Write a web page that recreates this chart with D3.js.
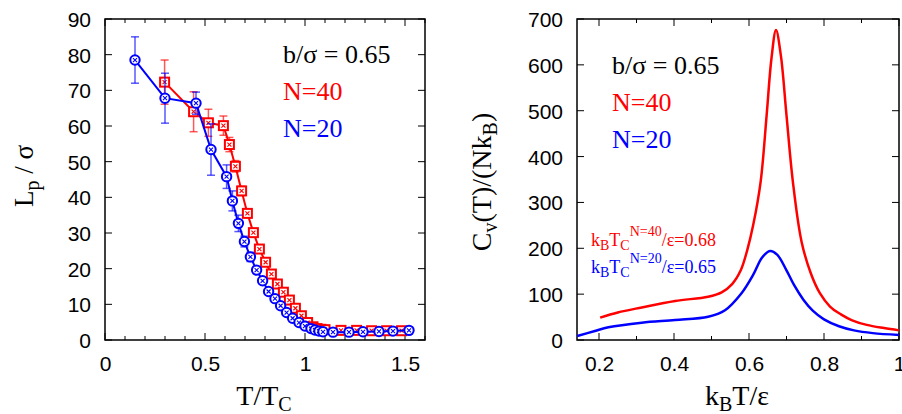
<!doctype html>
<html>
<head>
<meta charset="UTF-8">
<title>Persistence length and specific heat</title>
<script src="https://cdn.jsdelivr.net/npm/d3@7"></script>
<style>
body { margin: 0; background: #fff; }
.tick text { font-family: "Liberation Sans", Arial, sans-serif; font-size: 21px; }
</style>
</head>
<body>
<script>
// ---- left panel: Lp/sigma vs T/Tc ----
var tBlue = [0.15, 0.30, 0.455, 0.53, 0.608, 0.637, 0.667, 0.697, 0.727, 0.758, 0.788, 0.818, 0.85, 0.878, 0.908, 0.938, 0.97, 1.0, 1.03, 1.05, 1.07, 1.09, 1.14, 1.22, 1.29, 1.37, 1.44, 1.52];
var lpBlue = [78.5, 67.8, 66.4, 53.4, 45.8, 39.0, 32.7, 27.6, 23.3, 19.6, 16.6, 13.6, 11.6, 9.6, 7.7, 6.1, 4.9, 3.9, 3.2, 2.8, 2.5, 2.3, 2.2, 2.2, 2.3, 2.4, 2.5, 2.7];
var errBlue = [6.5, 7.0, 3.1, 7.2, 3.3, 2.8, 2.3, 1.5, 1.3, 1.0, 0.8, 0.6, 0.5, 0.4, 0.4, 0.3, 0.3, 0.3, 0.2, 0.2, 0.2, 0.2, 0.2, 0.2, 0.2, 0.2, 0.2, 0.2];

var tRed = [0.298, 0.443, 0.517, 0.592, 0.622, 0.652, 0.683, 0.712, 0.742, 0.772, 0.803, 0.832, 0.862, 0.892, 0.922, 0.952, 0.982, 1.013, 1.04, 1.06, 1.08, 1.10, 1.18, 1.258, 1.333, 1.408, 1.483];
var lpRed = [72.3, 64.0, 60.9, 60.1, 54.8, 48.7, 41.8, 35.5, 30.1, 25.5, 21.8, 18.5, 15.7, 13.4, 11.2, 8.9, 6.8, 4.9, 3.7, 3.2, 3.0, 2.9, 2.7, 2.7, 2.6, 2.6, 2.6];
var errRed = [6.2, 5.6, 3.8, 2.7, 2.0, 1.6, 1.3, 1.0, 0.8, 0.7, 0.6, 0.5, 0.4, 0.4, 0.3, 0.3, 0.3, 0.3, 0.2, 0.2, 0.2, 0.2, 0.2, 0.2, 0.2, 0.2, 0.2];

var leftXTicks = [0, 0.5, 1, 1.5];
var leftYTicks = [0, 10, 20, 30, 40, 50, 60, 70, 80, 90];

// ---- right panel: Cv vs kBT/eps ----
var kRed = [0.203, 0.25, 0.314, 0.403, 0.491, 0.527, 0.555, 0.578, 0.595, 0.611, 0.631, 0.647, 0.66, 0.672, 0.685, 0.70, 0.717, 0.74, 0.765, 0.789, 0.816, 0.845, 0.875, 0.914, 0.96, 1.0];
var cvRed = [48.7, 60, 71, 85, 94.5, 104, 122, 152, 195, 250, 345, 490, 615, 676, 620, 490, 345, 215, 145, 102, 73, 56, 43, 33, 26, 21];

var kBlue = [0.142, 0.189, 0.225, 0.314, 0.403, 0.491, 0.536, 0.58, 0.611, 0.635, 0.656, 0.675, 0.70, 0.72, 0.745, 0.77, 0.8, 0.84, 0.88, 0.93, 1.0];
var cvBlue = [8.7, 19.6, 27.6, 37.7, 43.6, 50.8, 65, 102, 142, 180, 194, 186, 152, 120, 88, 64, 45, 30, 21, 15, 11];

var rightXTicks = [0.2, 0.4, 0.6, 0.8, 1];
var rightYTicks = [0, 100, 200, 300, 400, 500, 600, 700];

var w = 902, h = 414;
var red = "#ff0000", blue = "#0000ff";
var serif = "'Liberation Serif', 'Times New Roman', serif";

var svg = d3.select("body").append("svg")
  .attr("width", w)
  .attr("height", h);

// frame + ticks in gnuplot style (inward, mirrored)
function frame(x, y, xMajor, xMinorStep, yMajor, xFmt) {
  var g = svg.append("g");
  var x0 = x.range()[0], x1 = x.range()[1], y0 = y.range()[0], y1 = y.range()[1];

  var xa = g.append("g").attr("transform", "translate(0," + y0 + ")")
    .call(d3.axisBottom(x).tickValues(xMajor).tickSize(0).tickPadding(16).tickFormat(xFmt));
  xa.select(".domain").remove();
  var ya = g.append("g").attr("transform", "translate(" + x0 + ",0)")
    .call(d3.axisLeft(y).tickValues(yMajor).tickSize(0).tickPadding(14));
  ya.select(".domain").remove();
  ya.selectAll("text").attr("dy", "0.36em");

  var minorX = d3.range(Math.ceil(x.domain()[0] / xMinorStep - 1e-6), Math.floor(x.domain()[1] / xMinorStep + 1e-6) + 1)
    .map(function(i) { return +(i * xMinorStep).toFixed(4); });
  minorX.forEach(function(v) {
    var isMajor = xMajor.some(function(m) { return Math.abs(m - v) < 1e-6; });
    var len = isMajor ? 7 : 4;
    g.append("line").attr("x1", x(v)).attr("x2", x(v)).attr("y1", y0).attr("y2", y0 - len).attr("stroke", "#000");
    g.append("line").attr("x1", x(v)).attr("x2", x(v)).attr("y1", y1).attr("y2", y1 + len).attr("stroke", "#000");
  });
  yMajor.forEach(function(v) {
    g.append("line").attr("x1", x0).attr("x2", x0 + 7).attr("y1", y(v)).attr("y2", y(v)).attr("stroke", "#000");
    g.append("line").attr("x1", x1).attr("x2", x1 - 7).attr("y1", y(v)).attr("y2", y(v)).attr("stroke", "#000");
  });

  g.append("rect")
    .attr("x", x0).attr("y", y1)
    .attr("width", x1 - x0).attr("height", y0 - y1)
    .attr("fill", "none").attr("stroke", "#000").attr("stroke-width", 1.5);
}

// ======== left panel ========
var xL = d3.scaleLinear().domain([0, 1.6]).range([105, 425]);
var yL = d3.scaleLinear().domain([0, 90]).range([340, 19]);

frame(xL, yL, leftXTicks, 0.1, leftYTicks, d3.format("~g"));

function series(t, v, e, color, shape) {
  var g = svg.append("g");
  var pts = t.map(function(d, i) { return {t: d, v: v[i], e: e[i]}; });

  // error bars
  pts.forEach(function(p) {
    var px = xL(p.t);
    g.append("line").attr("x1", px).attr("x2", px)
      .attr("y1", yL(p.v - p.e)).attr("y2", yL(p.v + p.e))
      .attr("stroke", color).attr("stroke-width", 1.5).attr("opacity", 0.65);
    [p.v - p.e, p.v + p.e].forEach(function(val) {
      g.append("line").attr("x1", px - 4).attr("x2", px + 4)
        .attr("y1", yL(val)).attr("y2", yL(val))
        .attr("stroke", color).attr("stroke-width", 1.5).attr("opacity", 0.65);
    });
  });

  g.append("path").datum(pts)
    .attr("fill", "none").attr("stroke", color).attr("stroke-width", 2)
    .attr("d", d3.line().x(function(d) { return xL(d.t); }).y(function(d) { return yL(d.v); }));

  pts.forEach(function(p) {
    var px = xL(p.t), py = yL(p.v);
    if (shape === "square") {
      g.append("rect").attr("x", px - 4.5).attr("y", py - 4.5).attr("width", 9).attr("height", 9)
        .attr("fill", "#fff").attr("stroke", color).attr("stroke-width", 2);
    } else {
      g.append("circle").attr("cx", px).attr("cy", py).attr("r", 4.7)
        .attr("fill", "#fff").attr("stroke", color).attr("stroke-width", 2);
    }
    g.append("path")
      .attr("d", "M" + (px - 2) + "," + (py - 2) + "L" + (px + 2) + "," + (py + 2) +
                 "M" + (px - 2) + "," + (py + 2) + "L" + (px + 2) + "," + (py - 2))
      .attr("stroke", color).attr("stroke-width", 1.1);
  });
}

series(tRed, lpRed, errRed, red, "square");
series(tBlue, lpBlue, errBlue, blue, "circle");

function legend(x0, yb, fs) {
  svg.append("text").attr("font-family", serif).attr("x", x0).attr("y", yb)
    .attr("font-size", fs).attr("fill", "#000").text("b/\u03c3 = 0.65");
  svg.append("text").attr("font-family", serif).attr("x", x0).attr("y", yb + 37)
    .attr("font-size", fs).attr("fill", red).text("N=40");
  svg.append("text").attr("font-family", serif).attr("x", x0).attr("y", yb + 74)
    .attr("font-size", fs).attr("fill", blue).text("N=20");
}
legend(283, 63, 26);

// axis labels left
var yl = svg.append("text").attr("font-family", serif)
  .attr("transform", "translate(33,176) rotate(-90)")
  .attr("text-anchor", "middle").attr("font-size", 27);
yl.append("tspan").text("L");
yl.append("tspan").attr("font-size", 20).attr("dy", 6).text("p");
yl.append("tspan").attr("dy", -6).text(" / \u03c3");

var xl = svg.append("text").attr("font-family", serif)
  .attr("x", 264).attr("y", 405)
  .attr("text-anchor", "middle").attr("font-size", 28);
xl.append("tspan").text("T/T");
xl.append("tspan").attr("font-size", 20).attr("dy", 6).text("C");

// ======== right panel ========
var xR = d3.scaleLinear().domain([0.1413, 1.0]).range([577, 899]);
var yR = d3.scaleLinear().domain([0, 700]).range([340, 19]);

frame(xR, yR, rightXTicks, 0.1, rightYTicks, d3.format("~g"));

var curve = d3.line().curve(d3.curveCatmullRom.alpha(0.5))
  .x(function(d) { return xR(d[0]); }).y(function(d) { return yR(d[1]); });

svg.append("path").datum(d3.zip(kRed, cvRed))
  .attr("fill", "none").attr("stroke", red).attr("stroke-width", 2.5).attr("d", curve);
svg.append("path").datum(d3.zip(kBlue, cvBlue))
  .attr("fill", "none").attr("stroke", blue).attr("stroke-width", 2.5).attr("d", curve);

legend(612, 74, 26);

function tcLabel(yb, color, n, val) {
  var t = svg.append("text").attr("font-family", serif)
    .attr("x", 591).attr("y", yb).attr("font-size", 18).attr("fill", color);
  t.append("tspan").text("k");
  t.append("tspan").attr("font-size", 14).attr("dy", 4).text("B");
  t.append("tspan").attr("dy", -4).text("T");
  t.append("tspan").attr("font-size", 14).attr("dy", 4).text("C");
  t.append("tspan").attr("font-size", 14).attr("dy", -14).text("N=" + n);
  t.append("tspan").attr("dy", 10).text("/\u03b5=" + val);
}
tcLabel(246, red, 40, "0.68");
tcLabel(273, blue, 20, "0.65");

var yr = svg.append("text").attr("font-family", serif)
  .attr("transform", "translate(491,182) rotate(-90)")
  .attr("text-anchor", "middle").attr("font-size", 28);
yr.append("tspan").text("C");
yr.append("tspan").attr("font-size", 20).attr("dy", 6).text("v");
yr.append("tspan").attr("dy", -6).text("(T)/(Nk");
yr.append("tspan").attr("font-size", 20).attr("dy", 6).text("B");
yr.append("tspan").attr("dy", -6).text(")");

var xr = svg.append("text").attr("font-family", serif)
  .attr("x", 737).attr("y", 405)
  .attr("text-anchor", "middle").attr("font-size", 28);
xr.append("tspan").text("k");
xr.append("tspan").attr("font-size", 20).attr("dy", 6).text("B");
xr.append("tspan").attr("dy", -6).text("T/\u03b5");
</script>
</body>
</html>
